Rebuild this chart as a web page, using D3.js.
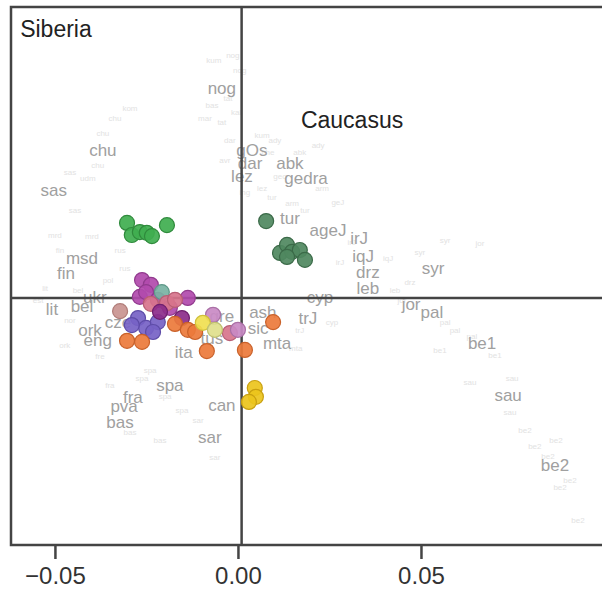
<!DOCTYPE html>
<html>
<head>
<meta charset="utf-8">
<script src="https://cdn.jsdelivr.net/npm/d3@7"></script>
<style>
  body { margin: 0; background: #fff; }
  text { font-family: "Liberation Sans", Arial, sans-serif; }
</style>
</head>
<body>
<div id="my_dataviz"></div>
<script>
// plot size
var width = 602, height = 590;

// axis ticks
var xTicks = [-0.05, 0.00, 0.05];
var xTickLabels = ["\u22120.05", "0.00", "0.05"];

// quadrant dividers (PC units)
var dividerX = 0.001;
var dividerY = 0.0;

// region notes
var regionNotes = [
  {x: -0.0595, y: 0.0712, t: "Siberia"},
  {x: 0.0172, y: 0.0464, t: "Caucasus"}
];

// labelled modern populations [pc1, pc2, code]
var popLabels = [
  [-0.0044, 0.0574, "nog"], [-0.0369, 0.0404, "chu"], [-0.0503, 0.0295, "sas"],
  [0.0038, 0.0404, "gOs"], [0.0033, 0.0369, "dar"], [0.0142, 0.0369, "abk"],
  [0.0011, 0.0333, "lez"], [0.0186, 0.0328, "gedra"], [0.0142, 0.0219, "tur"],
  [0.0246, 0.0186, "ageJ"], [0.0331, 0.0164, "irJ"], [0.0342, 0.0115, "iqJ"],
  [0.0355, 0.0071, "drz"], [0.0355, 0.0027, "leb"], [0.0533, 0.0082, "syr"],
  [0.0224, 0.0003, "cyp"], [0.0191, -0.0055, "trJ"], [0.0473, -0.0016, "jor"],
  [0.0530, -0.0038, "pal"], [0.0667, -0.0123, "be1"], [0.0738, -0.0265, "sau"],
  [0.0866, -0.0456, "be2"], [-0.0426, 0.0109, "msd"], [-0.0470, 0.0068, "fin"],
  [-0.0391, 0.0003, "ukr"], [-0.0426, -0.0022, "bel"], [-0.0508, -0.0030, "lit"],
  [-0.0328, -0.0066, "cze"], [-0.0404, -0.0087, "ork"], [-0.0383, -0.0115, "eng"],
  [-0.0148, -0.0148, "ita"], [-0.0186, -0.0238, "spa"], [-0.0287, -0.0270, "fra"],
  [-0.0311, -0.0295, "pva"], [-0.0322, -0.0339, "bas"], [-0.0044, -0.0292, "can"],
  [-0.0077, -0.0380, "sar"], [0.0107, -0.0123, "mta"], [0.0055, -0.0082, "sic"],
  [0.0068, -0.0038, "ash"], [-0.0044, -0.0049, "gre"], [-0.0071, -0.0109, "tus"]
];

// faint individual labels [pc1, pc2, code]
var faintLabels = [
  [-0.0014, 0.0664, "nog"], [-0.0066, 0.0650, "kum"], [0.0005, 0.0623, "nog"],
  [-0.0027, 0.0545, "tat"], [-0.0071, 0.0527, "bas"], [-0.0005, 0.0508, "kal"],
  [-0.0044, 0.0481, "tat"], [-0.0090, 0.0492, "mar"], [-0.0336, 0.0492, "chu"],
  [-0.0369, 0.0451, "chu"], [-0.0383, 0.0363, "chu"], [-0.0410, 0.0328, "udm"],
  [-0.0295, 0.0519, "kom"], [0.0066, 0.0445, "kum"], [0.0101, 0.0432, "ady"],
  [-0.0022, 0.0432, "dar"], [0.0082, 0.0399, "che"], [0.0115, 0.0333, "geo"],
  [0.0066, 0.0301, "lez"], [0.0019, 0.0290, "ing"], [-0.0036, 0.0377, "avr"],
  [0.0169, 0.0399, "abk"], [0.0219, 0.0418, "ady"], [0.0230, 0.0301, "arm"],
  [0.0273, 0.0262, "geJ"], [0.0093, 0.0276, "tur"], [0.0148, 0.0260, "arm"],
  [-0.0445, 0.0240, "sas"], [-0.0459, 0.0344, "sas"], [-0.0500, 0.0172, "mrd"],
  [-0.0399, 0.0169, "mrd"], [-0.0322, 0.0131, "rus"], [-0.0486, 0.0131, "fin"],
  [-0.0527, 0.0027, "lit"], [-0.0546, -0.0005, "est"], [-0.0459, -0.0060, "nor"],
  [-0.0473, -0.0128, "ork"], [-0.0377, -0.0158, "fre"], [-0.0437, 0.0022, "bel"],
  [-0.0355, 0.0049, "pol"], [-0.0309, 0.0082, "rus"], [-0.0240, -0.0197, "spa"],
  [-0.0262, -0.0219, "spa"], [-0.0199, -0.0268, "spa"], [-0.0153, -0.0306, "spa"],
  [-0.0295, -0.0366, "bas"], [-0.0109, -0.0333, "sar"], [-0.0063, -0.0434, "sar"],
  [-0.0213, -0.0388, "bas"], [-0.0350, -0.0238, "fra"], [0.0183, 0.0240, "tur"],
  [0.0279, 0.0098, "irJ"], [0.0311, 0.0153, "irJ"], [0.0410, 0.0109, "iqJ"],
  [0.0429, 0.0022, "leb"], [0.0497, 0.0126, "syr"], [0.0566, 0.0158, "syr"],
  [0.0661, 0.0150, "jor"], [0.0593, -0.0087, "pal"], [0.0639, -0.0104, "pal"],
  [0.0552, -0.0142, "be1"], [0.0702, -0.0156, "be1"], [0.0634, -0.0230, "sau"],
  [0.0743, -0.0311, "sau"], [0.0784, -0.0361, "be2"], [0.0811, -0.0404, "be2"],
  [0.0869, -0.0388, "be2"], [0.0847, -0.0432, "be2"], [0.0907, -0.0497, "be2"],
  [0.0880, -0.0516, "be2"], [0.0929, -0.0607, "be2"], [0.0448, -0.0005, "jor"],
  [0.0566, -0.0066, "pal"], [0.0169, -0.0087, "trJ"], [0.0158, -0.0137, "mta"],
  [0.0257, -0.0066, "cyp"], [0.0470, 0.0044, "drz"], [0.0749, -0.0219, "sau"]
];

// ancient samples, one array per group [pc1, pc2]
var groupGreen = [[-0.0303, 0.0205], [-0.0290, 0.0172], [-0.0268, 0.0180],
  [-0.0249, 0.0178], [-0.0235, 0.0169], [-0.0194, 0.0199]];
var groupDarkGreen = [[0.0077, 0.0210], [0.0115, 0.0123], [0.0134, 0.0145],
  [0.0148, 0.0126], [0.0169, 0.0131], [0.0183, 0.0104], [0.0134, 0.0112]];
var groupGold = [[0.0046, -0.0246], [0.0049, -0.0270], [0.0030, -0.0284]];
var groupMagenta = [[-0.0262, 0.0049], [-0.0238, 0.0036], [-0.0268, 0.0003],
  [-0.0251, 0.0016], [-0.0137, 0.0000], [-0.0186, -0.0027], [-0.0219, -0.0005]];
var groupPlum = [[-0.0153, -0.0055], [-0.0213, -0.0038]];
var groupTeal = [[-0.0208, 0.0016]];
var groupPink = [[-0.0238, -0.0016], [-0.0194, -0.0014], [-0.0172, -0.0005],
  [-0.0022, -0.0096]];
var groupRose = [[-0.0322, -0.0036]];
var groupViolet = [[-0.0273, -0.0055], [-0.0251, -0.0082], [-0.0219, -0.0066],
  [-0.0232, -0.0093], [-0.0290, -0.0074]];
var groupLilac = [[-0.0068, -0.0046], [0.0000, -0.0087]];
var groupOrange = [[-0.0303, -0.0117], [-0.0262, -0.0120], [-0.0172, -0.0071],
  [-0.0137, -0.0087], [-0.0117, -0.0093], [-0.0085, -0.0145], [0.0019, -0.0142],
  [0.0096, -0.0066]];
var groupYellow = [[-0.0096, -0.0068]];
var groupPale = [[-0.0063, -0.0087]];

var groups = [
  {pts: groupGreen, fill: "#3fae4f", stroke: "#2f8a3c"},
  {pts: groupDarkGreen, fill: "#4f8860", stroke: "#3b6a48"},
  {pts: groupGold, fill: "#ecc41c", stroke: "#c9a010"},
  {pts: groupRose, fill: "#c99490", stroke: "#b07c78"},
  {pts: groupViolet, fill: "#7662c6", stroke: "#5e4ca8"},
  {pts: groupMagenta, fill: "#b14aad", stroke: "#913a8e"},
  {pts: groupTeal, fill: "#78b3a3", stroke: "#5e9888"},
  {pts: groupPink, fill: "#d7748c", stroke: "#b85e74"},
  {pts: groupPlum, fill: "#8c2c8a", stroke: "#6f1f6e"},
  {pts: groupLilac, fill: "#c98ac4", stroke: "#aa70a6"},
  {pts: groupOrange, fill: "#eb7a3b", stroke: "#c9612a"},
  {pts: groupYellow, fill: "#f0e050", stroke: "#cfc03a"},
  {pts: groupPale, fill: "#dfe08c", stroke: "#bfc070"}
];

var svg = d3.select("#my_dataviz")
  .append("svg")
    .attr("width", width)
    .attr("height", height);

// scales (same px per unit on both axes)
var x = d3.scaleLinear().domain([-0.062, 0.1]).range([11, 604]);
var y = d3.scaleLinear().domain([-0.0675, 0.0795]).range([545, 7]);

// faint labels
svg.append("g")
  .selectAll("text")
  .data(faintLabels)
  .enter().append("text")
    .attr("x", function(d) { return x(d[0]); })
    .attr("y", function(d) { return y(d[1]); })
    .attr("text-anchor", "middle")
    .attr("dy", "0.35em")
    .attr("font-size", 8)
    .attr("fill", "#e2e2e2")
    .text(function(d) { return d[2]; });

// population labels
svg.append("g")
  .selectAll("text")
  .data(popLabels)
  .enter().append("text")
    .attr("x", function(d) { return x(d[0]); })
    .attr("y", function(d) { return y(d[1]); })
    .attr("text-anchor", "middle")
    .attr("dy", "0.35em")
    .attr("font-size", 17)
    .attr("fill", "#a0a0a0")
    .text(function(d) { return d[2]; });

// dividers and frame
svg.append("line")
  .attr("x1", x(dividerX)).attr("x2", x(dividerX))
  .attr("y1", y.range()[1]).attr("y2", y.range()[0])
  .attr("stroke", "#444").attr("stroke-width", 2.5);
svg.append("line")
  .attr("x1", x.range()[0]).attr("x2", x.range()[1])
  .attr("y1", y(dividerY)).attr("y2", y(dividerY))
  .attr("stroke", "#444").attr("stroke-width", 2.5);

svg.append("path")
  .attr("d", "M" + x.range()[1] + "," + y.range()[1] + "H" + x.range()[0] +
             "V" + y.range()[0] + "H" + x.range()[1])
  .attr("fill", "none")
  .attr("stroke", "#444")
  .attr("stroke-width", 2.5);

// samples
groups.forEach(function(g) {
  svg.append("g")
    .selectAll("circle")
    .data(g.pts)
    .enter().append("circle")
      .attr("cx", function(d) { return x(d[0]); })
      .attr("cy", function(d) { return y(d[1]); })
      .attr("r", 7.5)
      .attr("fill", g.fill)
      .attr("fill-opacity", 0.92)
      .attr("stroke", g.stroke)
      .attr("stroke-width", 1.2);
});

// x axis
var xAxis = svg.append("g")
  .attr("transform", "translate(0," + y.range()[0] + ")")
  .call(d3.axisBottom(x).tickValues(xTicks)
    .tickFormat(function(d, i) { return xTickLabels[i]; })
    .tickSize(14).tickPadding(8));
xAxis.select(".domain").remove();
xAxis.selectAll(".tick line").attr("stroke", "#444").attr("stroke-width", 2.5);
xAxis.selectAll(".tick text")
  .attr("font-size", 24)
  .attr("font-family", "Liberation Sans, Arial, sans-serif")
  .attr("fill", "#333");

// region notes
svg.append("g")
  .selectAll("text")
  .data(regionNotes)
  .enter().append("text")
    .attr("x", function(d) { return x(d.x); })
    .attr("y", function(d) { return y(d.y); })
    .attr("font-size", 23)
    .attr("fill", "#222")
    .text(function(d) { return d.t; });
</script>
</body>
</html>
